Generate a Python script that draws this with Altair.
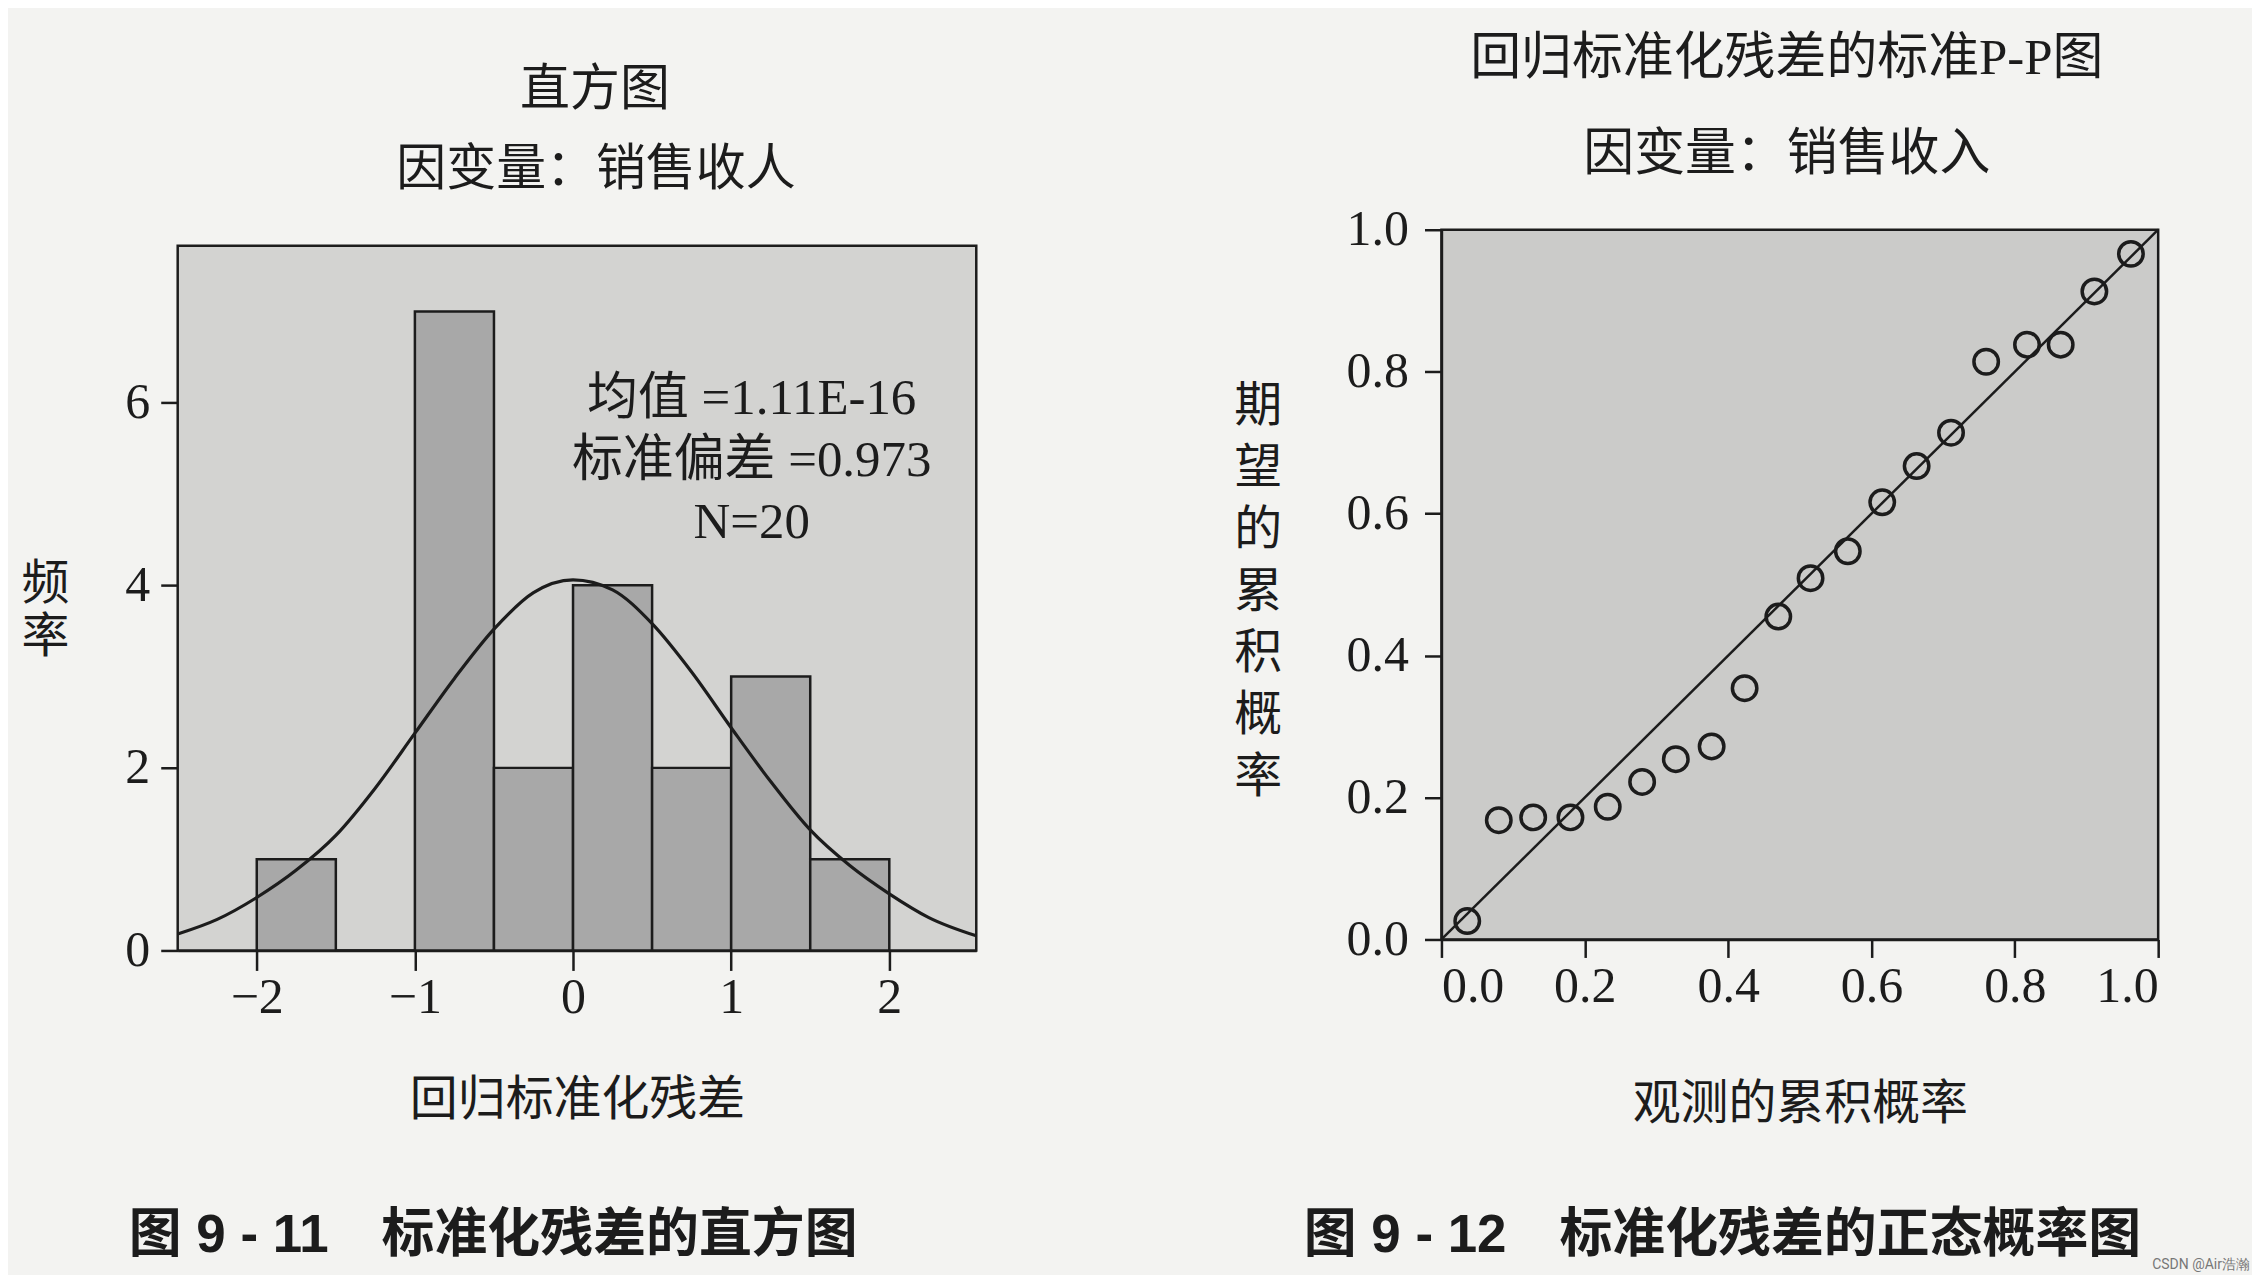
import altair as alt
import pandas as pd

# ---------------- data ----------------
# Histogram of standardized residuals (bin edges and counts)
bin_start = [-2.0, -1.5, -1.0, -0.5, 0.0, 0.5, 1.0, 1.5]
bin_end = [-1.5, -1.0, -0.5, 0.0, 0.5, 1.0, 1.5, 2.0]
counts = [1, 0, 7, 2, 4, 2, 3, 1]

# Normal curve
curve_x = [-2.5, -2.25, -2.0, -1.75, -1.5, -1.25, -1.0, -0.75, -0.5, -0.25, 0.0,
           0.25, 0.5, 0.75, 1.0, 1.25, 1.5, 1.75, 2.0, 2.25, 2.55]
curve_y = [0.18, 0.34, 0.58, 0.88, 1.26, 1.78, 2.38, 2.98, 3.52, 3.92, 4.06,
           3.95, 3.58, 3.05, 2.44, 1.85, 1.32, 0.93, 0.62, 0.36, 0.16]

# P-P plot points
pp_observed = [0.036, 0.080, 0.128, 0.180, 0.232, 0.280, 0.327, 0.377, 0.423, 0.470,
               0.515, 0.567, 0.615, 0.663, 0.711, 0.760, 0.817, 0.864, 0.911, 0.962]
pp_expected = [0.026, 0.168, 0.172, 0.172, 0.187, 0.222, 0.254, 0.272, 0.354, 0.455,
               0.509, 0.547, 0.616, 0.667, 0.714, 0.814, 0.838, 0.838, 0.913, 0.966]
diag_x = [0.0, 1.0]
diag_y = [0.0, 1.0]

hist_ticks = [-2, -1, 0, 1, 2]
freq_ticks = [0, 2, 4, 6]
pp_ticks = [0.0, 0.2, 0.4, 0.6, 0.8, 1.0]

stats_text = ["均值 =1.11E-16", "标准偏差 =0.973", "N=20"]
left_title = ["直方图", "因变量：销售收人"]
right_title = ["回归标准化残差的标准P-P图", "因变量：销售收入"]
left_caption = "图 9 - 11　标准化残差的直方图"
right_caption = "图 9 - 12　标准化残差的正态概率图"
watermark = "CSDN @Air浩瀚"

# ---------------- styles / layout ----------------
INK = "#1c1c1c"
SERIF = "Liberation Serif, Noto Sans CJK SC"
CJK = "Noto Sans CJK SC"
SANS = "Liberation Sans, Noto Sans CJK SC"

LX0, LX1, LY1 = -2.5, 2.55, 7.72     # histogram axis extents
LW, LH = 800, 706                    # histogram frame size
LIFT = 16                            # right panel sits this much higher
RW, RH = 718, 711

hist_df = pd.DataFrame({"start": bin_start, "end": bin_end, "count": counts})
curve_df = pd.DataFrame({"x": curve_x, "y": curve_y})
pp_df = pd.DataFrame({"obs": pp_observed, "exp": pp_expected})
diag_df = pd.DataFrame({"x": diag_x, "y": diag_y})
frame_df = pd.DataFrame({"x0": [LX0], "x1": [LX1], "y0": [0.0], "y1": [LY1]})

axis_common = dict(
    grid=False, domainColor=INK, domainWidth=2.5, tickColor=INK, tickWidth=2.5,
    labelFont="Liberation Serif", labelFontSize=50, labelColor=INK,
    titleFontSize=48, titleFontWeight="normal", titleColor=INK,
)

# ---------------- left: histogram ----------------
xs_l = alt.Scale(domain=[LX0, LX1], nice=False, zero=False)
ys_l = alt.Scale(domain=[0, LY1 * (LH + LIFT) / LH], nice=False)

x_axis_l = alt.Axis(values=hist_ticks, format="d", tickSize=20, labelPadding=2,
                    title="回归标准化残差", titleFont=CJK, titleY=150,
                    titleBaseline="middle", **axis_common)
y_axis_l = alt.Axis(values=freq_ticks, format="d", tickSize=17, labelPadding=11,
                    domain=False, titleFont=SERIF,
                    title=["频", "率"], titleAngle=0, titleX=-133, titleY=355,
                    titleAlign="center", titleBaseline="middle", titleLineHeight=54,
                    **axis_common)

frame = alt.Chart(frame_df).mark_rect(fill="#d3d3d1", stroke=INK, strokeWidth=2.5).encode(
    x=alt.X("x0:Q", scale=xs_l, axis=x_axis_l), x2="x1:Q",
    y=alt.Y("y0:Q", scale=ys_l, axis=y_axis_l), y2="y1:Q",
)
bars = alt.Chart(hist_df).mark_bar(fill="#a8a8a8", stroke=INK, strokeWidth=2.5).encode(
    x=alt.X("start:Q", scale=xs_l),
    x2="end:Q",
    y=alt.Y("count:Q", scale=ys_l),
    y2=alt.datum(0),
)
curve = alt.Chart(curve_df).mark_line(color=INK, strokeWidth=3.2, interpolate="monotone").encode(
    x=alt.X("x:Q", scale=xs_l), y=alt.Y("y:Q", scale=ys_l)
)
stats = alt.Chart().mark_text(text=stats_text, font=SERIF, fontSize=51, color=INK,
                              align="center", baseline="middle", lineHeight=62).encode(
    x=alt.value(575), y=alt.value(170))
lt1 = alt.Chart().mark_text(text=left_title[0], font=CJK, fontSize=50, color=INK,
                            align="center", baseline="middle").encode(
    x=alt.value(418), y=alt.value(-140))
lt2 = alt.Chart().mark_text(text=left_title[1], font=CJK, fontSize=50, color=INK,
                            align="center", baseline="middle").encode(
    x=alt.value(419), y=alt.value(-60))
lcap = alt.Chart().mark_text(text=left_caption, font=SANS, fontSize=53, fontWeight="bold",
                             color=INK, align="left", baseline="middle").encode(
    x=alt.value(-49), y=alt.value(1008))

left = alt.layer(frame, bars, curve, stats, lt1, lt2, lcap).properties(
    width=LW, height=LH + LIFT,
    view=alt.ViewBackground(fill="transparent", stroke="transparent"),
)

# ---------------- right: P-P plot ----------------
xs_r = alt.Scale(domain=[0, 1], nice=False)
ys_r = alt.Scale(domain=[0, 1], nice=False)
x_axis_r = alt.Axis(values=pp_ticks, format=".1f", tickSize=18, labelPadding=4,
                    title="观测的累积概率", titleFont=CJK, titleY=165,
                    titleBaseline="middle", **axis_common)
y_axis_r = alt.Axis(values=pp_ticks, format=".1f", tickSize=17, labelPadding=16,
                    title=list("期望的累积概率"), titleFont=SERIF, titleAngle=0,
                    titleX=-184, titleY=177,
                    titleAlign="center", titleBaseline="middle", titleLineHeight=62,
                    **axis_common)

diag = alt.Chart(diag_df).mark_line(color=INK, strokeWidth=2.5).encode(
    x=alt.X("x:Q", scale=xs_r, axis=x_axis_r),
    y=alt.Y("y:Q", scale=ys_r, axis=y_axis_r),
)
pts = alt.Chart(pp_df).mark_point(shape="circle", filled=False, color=INK,
                                  strokeWidth=3.5, size=600, opacity=1).encode(
    x=alt.X("obs:Q", scale=xs_r), y=alt.Y("exp:Q", scale=ys_r)
)
rt1 = alt.Chart().mark_text(text=right_title[0], font=SERIF, fontSize=51, color=INK,
                            align="center", baseline="middle").encode(
    x=alt.value(346), y=alt.value(-171))
rt2 = alt.Chart().mark_text(text=right_title[1], font=CJK, fontSize=51, color=INK,
                            align="center", baseline="middle").encode(
    x=alt.value(346), y=alt.value(-75))
rcap = alt.Chart().mark_text(text=right_caption, font=SANS, fontSize=53, fontWeight="bold",
                             color=INK, align="left", baseline="middle").encode(
    x=alt.value(-138), y=alt.value(1008))
wm = alt.Chart().mark_text(text=watermark, font="Roboto", fontSize=14, color="#777777",
                           align="right", baseline="middle").encode(
    x=alt.value(810), y=alt.value(1037))

right = alt.layer(diag, pts, rt1, rt2, rcap, wm).properties(
    width=RW, height=RH,
    view=alt.ViewBackground(fill="#cbcbc9", stroke=INK, strokeWidth=2.5),
)

chart = alt.hconcat(left, right, spacing=249).properties(
    background="#f3f3f1",
    padding={"left": 12, "top": 22, "right": 0, "bottom": 0},
)

chart.save("out.html", embed_options={"renderer": "svg", "actions": False})
